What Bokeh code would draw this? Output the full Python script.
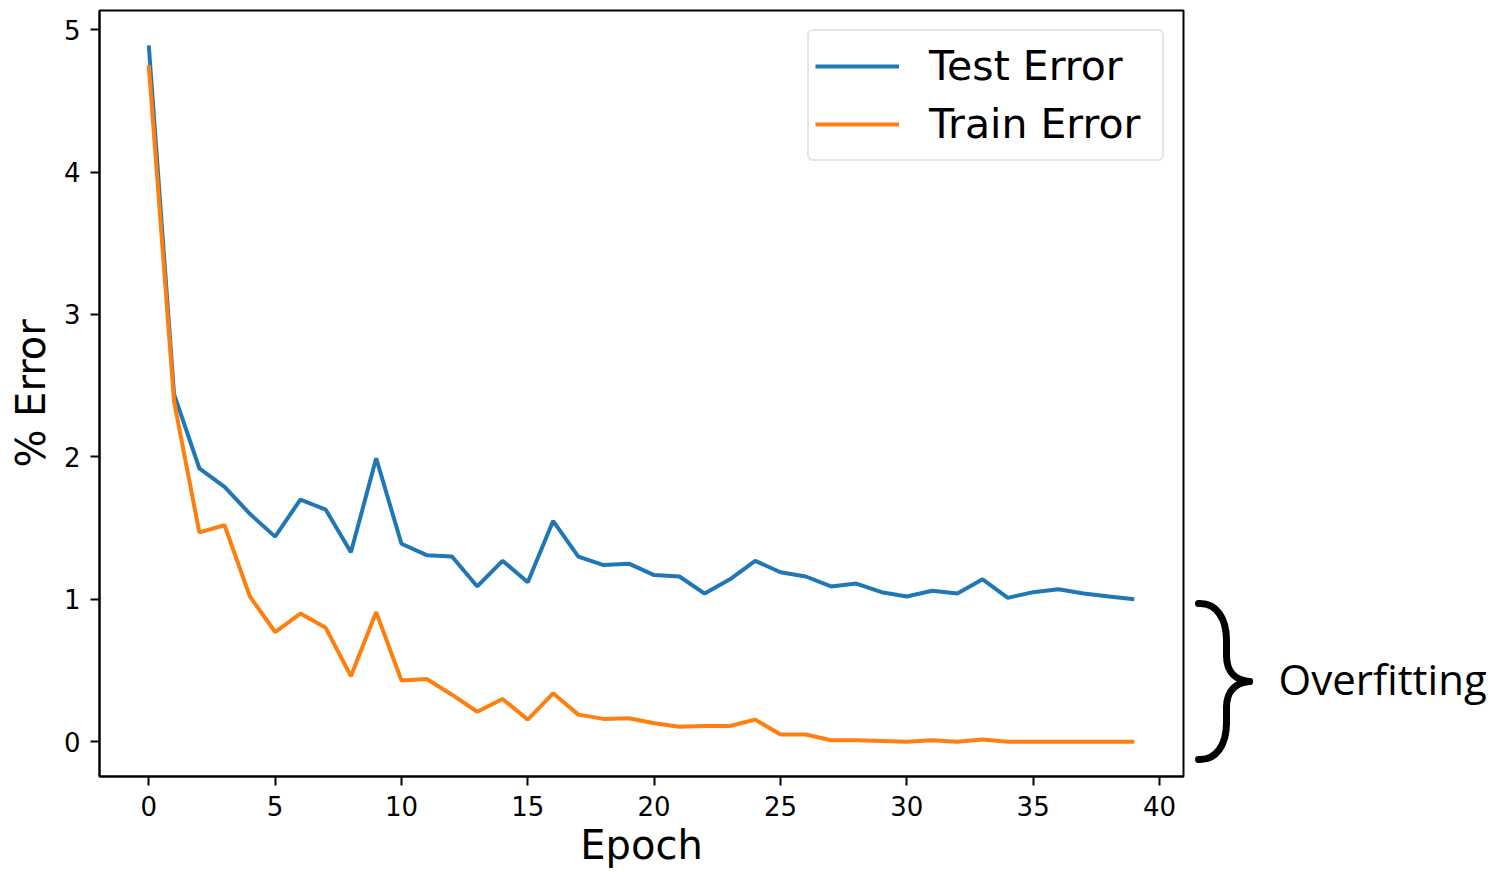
from bokeh.plotting import figure
from bokeh.layouts import row
from bokeh.models import Range1d, FixedTicker, Legend
from bokeh.core.properties import value
from bokeh.embed import file_html
from bokeh.resources import INLINE

epochs = list(range(40))
test_error = [4.89, 2.44, 1.92, 1.79, 1.60, 1.44, 1.70, 1.63, 1.33, 1.99,
              1.39, 1.31, 1.30, 1.09, 1.27, 1.12, 1.55, 1.30, 1.24, 1.25,
              1.17, 1.16, 1.04, 1.14, 1.27, 1.19, 1.16, 1.09, 1.11, 1.05,
              1.02, 1.06, 1.04, 1.14, 1.01, 1.05, 1.07, 1.04, 1.02, 1.00]
train_error = [4.75, 2.39, 1.47, 1.52, 1.02, 0.77, 0.90, 0.80, 0.46, 0.91,
               0.43, 0.44, 0.33, 0.21, 0.30, 0.155, 0.34, 0.19, 0.16, 0.165,
               0.13, 0.105, 0.11, 0.11, 0.155, 0.05, 0.05, 0.01, 0.01, 0.005,
               0.0, 0.01, 0.0, 0.015, 0.0, 0.0, 0.0, 0.0, 0.0, 0.0]
x_ticks = [0, 5, 10, 15, 20, 25, 30, 35, 40]
y_ticks = [0, 1, 2, 3, 4, 5]
series_names = ["Test Error", "Train Error"]
series_colors = ["#1f77b4", "#ff7f0e"]
annotation_text = "Overfitting"

FONT = "DejaVu Sans"
TOP, BOTTOM = 10, 96

p = figure(width=1185, height=872,
           x_range=Range1d(-1.95, 40.95), y_range=Range1d(-0.2445, 5.1345),
           output_backend="svg", toolbar_location=None,
           min_border_left=99, min_border_right=2,
           min_border_top=TOP, min_border_bottom=BOTTOM)
p.background_fill_color = "white"
p.border_fill_color = "white"
p.outline_line_color = "black"
p.outline_line_width = 2
p.xgrid.visible = False
p.ygrid.visible = False

p.line(epochs, test_error, line_color=series_colors[0], line_width=4,
       legend_label=series_names[0])
p.line(epochs, train_error, line_color=series_colors[1], line_width=4,
       legend_label=series_names[1])

p.xaxis.ticker = FixedTicker(ticks=x_ticks)
p.yaxis.ticker = FixedTicker(ticks=y_ticks)
for ax in (p.xaxis[0], p.yaxis[0]):
    ax.axis_line_color = "black"
    ax.axis_line_width = 2
    ax.major_tick_line_color = "black"
    ax.major_tick_line_width = 2
    ax.major_tick_out = 9
    ax.major_tick_in = 0
    ax.minor_tick_line_color = None
    ax.major_label_text_font = FONT
    ax.major_label_text_font_size = "26px"
    ax.major_label_text_color = "black"
    ax.axis_label_text_font = FONT
    ax.axis_label_text_font_size = "40px"
    ax.axis_label_text_font_style = "normal"
    ax.axis_label_text_color = "black"

p.xaxis.axis_label = "Epoch"
p.yaxis.axis_label = "% Error"
p.xaxis.major_label_standoff = 10
p.xaxis.axis_label_standoff = 3
p.yaxis.major_label_standoff = 10
p.yaxis.axis_label_standoff = 7

lg = p.legend[0]
lg.location = "top_right"
lg.margin = 19
lg.padding = 6
lg.spacing = 0
lg.glyph_width = 84
lg.glyph_height = 58
lg.label_height = 58
lg.label_width = 227
lg.label_standoff = 30
lg.label_text_font = FONT
lg.label_text_font_size = "41px"
lg.label_text_color = "black"
lg.border_line_color = "#cccccc"
lg.border_line_width = 2
lg.background_fill_color = "white"
lg.background_fill_alpha = 1.0
if "border_radius" in Legend.properties():
    lg.border_radius = 6

# Side panel with the brace annotation; its ranges are in page pixels
X0, X1 = 1185, 1506
q = figure(width=X1 - X0, height=872,
           x_range=Range1d(X0, X1), y_range=Range1d(872 - BOTTOM, TOP),
           output_backend="svg", toolbar_location=None,
           min_border_left=0, min_border_right=0,
           min_border_top=TOP, min_border_bottom=BOTTOM)
q.axis.visible = False
q.grid.visible = False
q.outline_line_color = None
q.background_fill_color = "white"
q.border_fill_color = "white"

segs = [
    # x0, y0, x1, y1, cx0, cy0, cx1, cy1
    (1198, 603, 1226, 640, 1216, 602, 1226, 618),
    (1226, 640, 1226, 655, 1226, 645, 1226, 650),
    (1226, 655, 1249, 681, 1226, 672, 1236, 680),
    (1249, 681, 1226, 707, 1236, 682, 1226, 690),
    (1226, 707, 1226, 722, 1226, 712, 1226, 717),
    (1226, 722, 1198, 759, 1226, 744, 1216, 760),
]
q.bezier(x0=[s[0] for s in segs], y0=[s[1] for s in segs],
         x1=[s[2] for s in segs], y1=[s[3] for s in segs],
         cx0=[s[4] for s in segs], cy0=[s[5] for s in segs],
         cx1=[s[6] for s in segs], cy1=[s[7] for s in segs],
         line_color="black", line_width=7, line_cap="round")
q.text(x=[1278], y=[678], text=[annotation_text],
       text_font=value("Open Sans"), text_font_size="42px",
       text_baseline="alphabetic", text_align="left", text_color="black")

layout = row(p, q)
open("out.html", "w").write(file_html(layout, INLINE))
